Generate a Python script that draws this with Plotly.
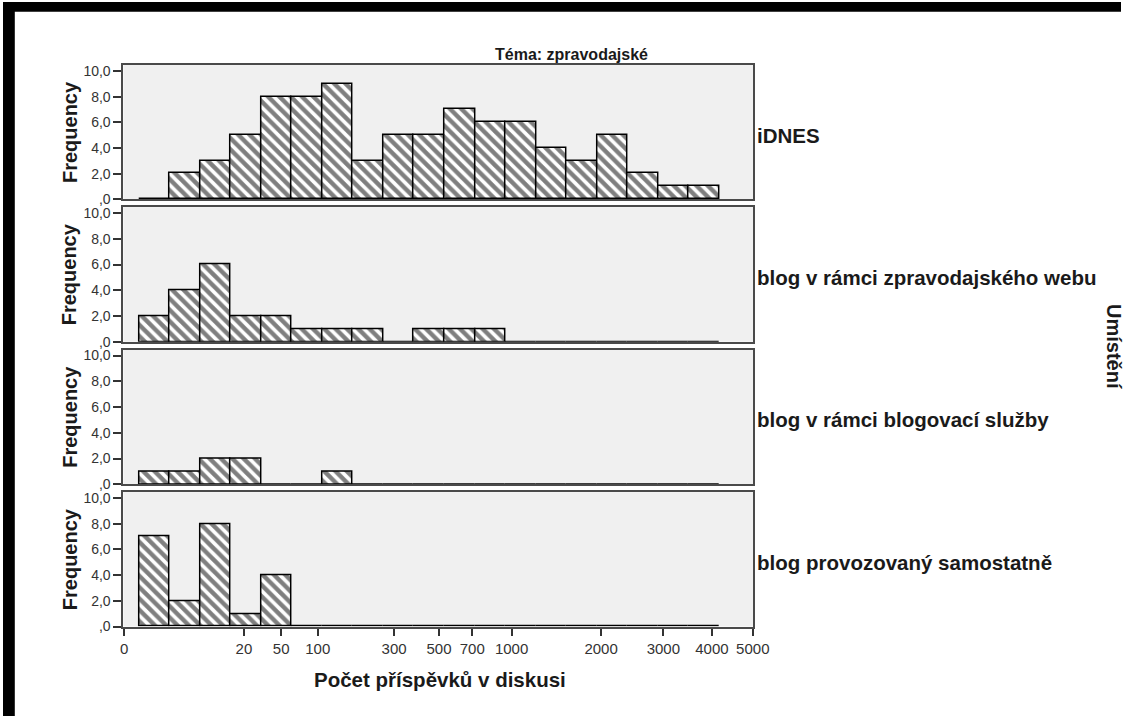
import plotly.graph_objects as go

# Histogram bins are equal-width steps on a transformed scale; x is the bin index.
bin_index = list(range(19))

panel_names = [
    "iDNES",
    "blog v rámci zpravodajského webu",
    "blog v rámci blogovací služby",
    "blog provozovaný samostatně",
]

counts_idnes = [0, 2, 3, 5, 8, 8, 9, 3, 5, 5, 7, 6, 6, 4, 3, 5, 2, 1, 1]
counts_blog_zprav = [2, 4, 6, 2, 2, 1, 1, 1, 0, 1, 1, 1, 0, 0, 0, 0, 0, 0, 0]
counts_blog_sluzba = [1, 1, 2, 2, 0, 0, 1, 0, 0, 0, 0, 0, 0, 0, 0, 0, 0, 0, 0]
counts_blog_samost = [7, 2, 8, 1, 4, 0, 0, 0, 0, 0, 0, 0, 0, 0, 0, 0, 0, 0, 0]

# x tick positions (in bin-index units) and their labels
x_tick_pos = [-0.99, 2.93, 4.15, 5.35, 7.85, 9.32, 10.41, 11.70, 14.63, 16.67, 18.26, 19.60]
x_tick_text = ["0", "20", "50", "100", "300", "500", "700", "1000", "2000", "3000", "4000", "5000"]

y_tick_vals = [0, 2, 4, 6, 8, 10]
y_tick_text = [",0", "2,0", "4,0", "6,0", "8,0", "10,0"]

all_counts = [counts_idnes, counts_blog_zprav, counts_blog_sluzba, counts_blog_samost]

W, H = 1137, 724
FONT = "Liberation Sans, Arial, sans-serif"


def px_x(p):
    return p / W


def px_y(p):
    return 1 - p / H


# panel pixel extents (top, bottom)
panels_px = [(64, 200), (208, 344.5), (352.5, 489), (497, 633.3)]
x_dom = [px_x(122.5), px_x(763)]
x_range = [-1.015, 19.615]
y_range = [0, 10.46]

fig = go.Figure()

for i, counts in enumerate(all_counts):
    n = i + 1
    xa = "x" if n == 1 else f"x{n}"
    ya = "y" if n == 1 else f"y{n}"
    fig.add_trace(go.Bar(
        x=bin_index, y=counts, width=1.0,
        xaxis=xa, yaxis=ya,
        marker=dict(
            color="white",
            line=dict(color="black", width=1.5),
            pattern=dict(shape="\\", fgcolor="black", bgcolor="white",
                         size=8, solidity=0.55),
        ),
        hoverinfo="skip",
        showlegend=False,
    ))

layout = dict(
    width=W, height=H, autosize=False,
    margin=dict(l=0, r=0, t=0, b=0),
    paper_bgcolor="white",
    plot_bgcolor="#f0f0f0",
    bargap=0,
    font=dict(family=FONT, color="#333333", size=14),
    showlegend=False,
)

annotations = []
for i, (top, bot) in enumerate(panels_px):
    n = i + 1
    xkey = "xaxis" if n == 1 else f"xaxis{n}"
    ykey = "yaxis" if n == 1 else f"yaxis{n}"
    last = (n == 4)
    layout[xkey] = dict(
        domain=x_dom, range=x_range, anchor="y" if n == 1 else f"y{n}",
        showgrid=False, zeroline=False,
        showline=True, mirror=True, linecolor="#4a4a4a", linewidth=2,
        tickmode="array", tickvals=x_tick_pos if last else [],
        ticktext=x_tick_text if last else [],
        ticks="outside" if last else "", ticklen=7, tickwidth=2, tickcolor="#333333",
        tickfont=dict(size=15, color="#333333", family=FONT),
        showticklabels=last, fixedrange=True,
    )
    layout[ykey] = dict(
        domain=[px_y(bot), px_y(top)], range=y_range,
        anchor="x" if n == 1 else f"x{n}",
        showgrid=False, zeroline=False,
        showline=True, mirror=True, linecolor="#4a4a4a", linewidth=2,
        tickmode="array", tickvals=y_tick_vals, ticktext=y_tick_text,
        ticks="outside", ticklen=8, tickwidth=2, tickcolor="#333333",
        tickfont=dict(size=14, color="#333333", family=FONT),
        fixedrange=True,
    )
    mid = (top + bot) / 2
    annotations.append(dict(
        text="<b>Frequency</b>", x=px_x(68), y=px_y(mid), xref="paper", yref="paper",
        textangle=-90, showarrow=False, xanchor="center", yanchor="middle",
        font=dict(size=20, color="#1a1a1a", family=FONT),
    ))
    annotations.append(dict(
        text=f"<b>{panel_names[i]}</b>", x=px_x(765), y=px_y(mid + 3),
        xref="paper", yref="paper", showarrow=False,
        xanchor="left", yanchor="middle",
        font=dict(size=20.5, color="#1a1a1a", family=FONT),
    ))

annotations.append(dict(
    text="<b>Téma: zpravodajské</b>", x=px_x(578), y=px_y(53),
    xref="paper", yref="paper", showarrow=False, xanchor="center", yanchor="middle",
    font=dict(size=16, color="#1a1a1a", family=FONT),
))
annotations.append(dict(
    text="<b>Počet příspěvků v diskusi</b>", x=px_x(444), y=px_y(687),
    xref="paper", yref="paper", showarrow=False, xanchor="center", yanchor="middle",
    font=dict(size=20.5, color="#1a1a1a", family=FONT),
))
annotations.append(dict(
    text="<b>Umístění</b>", x=px_x(1130), y=px_y(350),
    xref="paper", yref="paper", showarrow=False, xanchor="center", yanchor="middle",
    textangle=90, font=dict(size=20, color="#1a1a1a", family=FONT),
))
layout["annotations"] = annotations

# thick black frame on the top and left edges of the page
layout["shapes"] = [
    dict(type="rect", xref="paper", yref="paper", x0=0, x1=1, y0=px_y(10), y1=1,
         fillcolor="black", line=dict(width=0), layer="above"),
    dict(type="rect", xref="paper", yref="paper", x0=0, x1=px_x(12), y0=0, y1=1,
         fillcolor="black", line=dict(width=0), layer="above"),
]

fig.update_layout(**layout)
fig.write_html("out.html", config={"responsive": False})
